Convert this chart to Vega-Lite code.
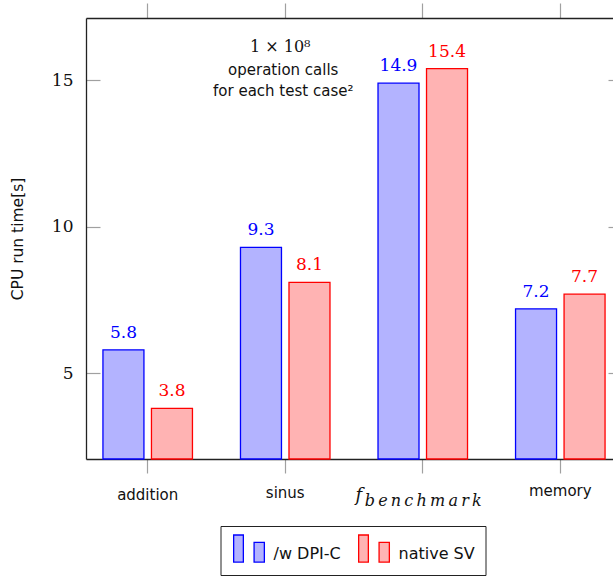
{
  "$schema": "https://vega.github.io/schema/vega-lite/v6.json",
  "width": 527,
  "height": 441,
  "autosize": {"type": "none"},
  "padding": {"left": 86, "top": 18, "right": 0, "bottom": 118},
  "background": "white",
  "config": {
    "view": {"stroke": null},
    "axis": {"grid": false, "domainColor": "#222222", "domainWidth": 1.3, "tickColor": "#a0a0a0", "tickWidth": 1.2, "labelColor": "#111111"},
    "legend": {
      "orient": "none", "legendX": 134.5, "legendY": 508, "direction": "horizontal",
      "symbolType": "M-0.89,-1.09L-0.455,-1.09L-0.455,0.123L-0.89,0.123Z M0.026,-0.76L0.487,-0.76L0.487,0.123L0.026,0.123Z",
      "symbolSize": 1989, "symbolStrokeWidth": 1.3, "symbolOpacity": 1,
      "labelFont": "DejaVu Sans", "labelFontSize": 16, "labelColor": "#111111", "labelOffset": -3, "labelBaseline": "alphabetic",
      "padding": 10, "strokeColor": "#222222", "columnPadding": 14
    }
  },
  "resolve": {"axis": {"x": "independent", "y": "independent"}},
  "layer": [
    {
      "data": {"name": "bars", "values": [
        {"category": "addition", "series": "/w DPI-C", "time": 5.8},
        {"category": "addition", "series": "native SV", "time": 3.8},
        {"category": "sinus", "series": "/w DPI-C", "time": 9.3},
        {"category": "sinus", "series": "native SV", "time": 8.1},
        {"category": "f_benchmark", "series": "/w DPI-C", "time": 14.9},
        {"category": "f_benchmark", "series": "native SV", "time": 15.4},
        {"category": "memory", "series": "/w DPI-C", "time": 7.2},
        {"category": "memory", "series": "native SV", "time": 7.7}
      ]},
      "mark": {"type": "bar", "strokeWidth": 1.3, "opacity": 1},
      "encoding": {
        "x": {"field": "category", "type": "nominal",
          "scale": {"type": "band", "domain": ["addition", "sinus", "f_benchmark", "memory"], "range": [0, 536], "paddingInner": 0.3492, "paddingOuter": 0.1232},
          "axis": {"orient": "bottom", "title": null, "tickSize": 14, "labelAngle": 0, "labelBaseline": "alphabetic",
            "labelExpr": "datum.value == 'f_benchmark' ? 'f' : datum.value",
            "labelFont": {"condition": {"test": "datum.value == 'f_benchmark'", "value": "DejaVu Serif"}, "value": "DejaVu Sans"},
            "labelFontStyle": {"condition": {"test": "datum.value == 'f_benchmark'", "value": "italic"}, "value": "normal"},
            "labelFontSize": {"condition": {"test": "datum.value == 'f_benchmark'", "value": 18}, "value": 15},
            "labelOffset": {"condition": {"test": "datum.value == 'f_benchmark'", "value": -64}, "value": 0},
            "labelPadding": {"condition": [
              {"test": "datum.value == 'f_benchmark'", "value": 27},
              {"test": "datum.value == 'addition'", "value": 26},
              {"test": "datum.value == 'sinus'", "value": 24}
            ], "value": 22}
          }},
        "xOffset": {"field": "series", "type": "nominal", "scale": {"domain": ["/w DPI-C", "native SV"], "paddingInner": 0.155, "paddingOuter": 0}},
        "y": {"field": "time", "type": "quantitative",
          "scale": {"domain": [2.075, 17.126], "zero": false, "nice": false, "clamp": true},
          "axis": {"orient": "left", "values": [5, 10, 15], "tickSize": -14, "labelPadding": 27, "labelFont": "DejaVu Serif", "labelFontSize": 17, "labelBaseline": "middle",
            "title": "CPU run time[s]", "titleFont": "DejaVu Sans", "titleFontSize": 15.5, "titleFontWeight": "normal", "titleColor": "#111111",
            "titleX": -69, "titleY": 220.5, "titleAngle": 270, "titleBaseline": "middle", "titleAlign": "center"}},
        "fill": {"field": "series", "type": "nominal", "scale": {"domain": ["/w DPI-C", "native SV"], "range": ["#b3b3ff", "#ffb3b3"]}, "legend": {"title": null}},
        "stroke": {"field": "series", "type": "nominal", "scale": {"domain": ["/w DPI-C", "native SV"], "range": ["#0000ff", "#ff0000"]}, "legend": {"title": null}}
      }
    },
    {
      "data": {"name": "bars"},
      "mark": {"type": "text", "font": "DejaVu Serif", "fontSize": 17, "baseline": "alphabetic", "dy": -12},
      "encoding": {
        "x": {"field": "category", "type": "nominal",
          "scale": {"type": "band", "domain": ["addition", "sinus", "f_benchmark", "memory"], "range": [0, 536], "paddingInner": 0.3492, "paddingOuter": 0.1232},
          "axis": {"orient": "top", "title": null, "labels": false, "tickSize": 15}},
        "xOffset": {"field": "series", "type": "nominal", "scale": {"domain": ["/w DPI-C", "native SV"], "paddingInner": 0.155, "paddingOuter": 0}},
        "y": {"field": "time", "type": "quantitative",
          "scale": {"domain": [2.075, 17.126], "zero": false, "nice": false, "clamp": true},
          "axis": {"orient": "right", "values": [5, 10, 15], "tickSize": -14, "labels": false, "title": null, "offset": 9}},
        "text": {"field": "time", "type": "quantitative", "format": ".1f"},
        "color": {"field": "series", "type": "nominal", "scale": {"domain": ["/w DPI-C", "native SV"], "range": ["#0000ff", "#ff0000"]}, "legend": null}
      }
    },
    {
      "data": {"values": [{"note": "1  ×  10⁸"}]},
      "mark": {"type": "text", "font": "DejaVu Serif", "fontSize": 16, "baseline": "alphabetic", "align": "center", "dx": -5, "color": "#111111"},
      "encoding": {
        "x": {"datum": "sinus", "type": "nominal",
          "scale": {"type": "band", "domain": ["addition", "sinus", "f_benchmark", "memory"], "range": [0, 536], "paddingInner": 0.3492, "paddingOuter": 0.1232},
          "axis": {"orient": "bottom", "title": null, "ticks": false, "domain": false, "labelAngle": 0, "labelBaseline": "alphabetic", "labelAlign": "left",
            "labelExpr": "datum.value == 'f_benchmark' ? 'b\u2009e\u2009n\u2009c\u2009h\u2009m\u2009a\u2009r\u2009k' : ''",
            "labelFont": "DejaVu Serif", "labelFontStyle": "italic", "labelFontSize": 16, "labelOffset": -58, "labelPadding": 46}},
        "y": {"datum": 15.976, "type": "quantitative", "scale": {"domain": [2.075, 17.126], "zero": false, "nice": false, "clamp": true}, "axis": null},
        "text": {"field": "note", "type": "nominal"}
      }
    },
    {
      "data": {"values": [{"note": ["operation calls", "for each test case²"]}]},
      "mark": {"type": "text", "font": "DejaVu Sans", "fontSize": 15, "baseline": "alphabetic", "align": "center", "dx": -2, "lineHeight": 21, "color": "#111111"},
      "encoding": {
        "x": {"datum": "sinus", "type": "nominal",
          "scale": {"type": "band", "domain": ["addition", "sinus", "f_benchmark", "memory"], "range": [0, 536], "paddingInner": 0.3492, "paddingOuter": 0.1232},
          "axis": null},
        "y": {"datum": 15.181, "type": "quantitative", "scale": {"domain": [2.075, 17.126], "zero": false, "nice": false, "clamp": true}, "axis": null},
        "text": {"field": "note", "type": "nominal"}
      }
    }
  ]
}
